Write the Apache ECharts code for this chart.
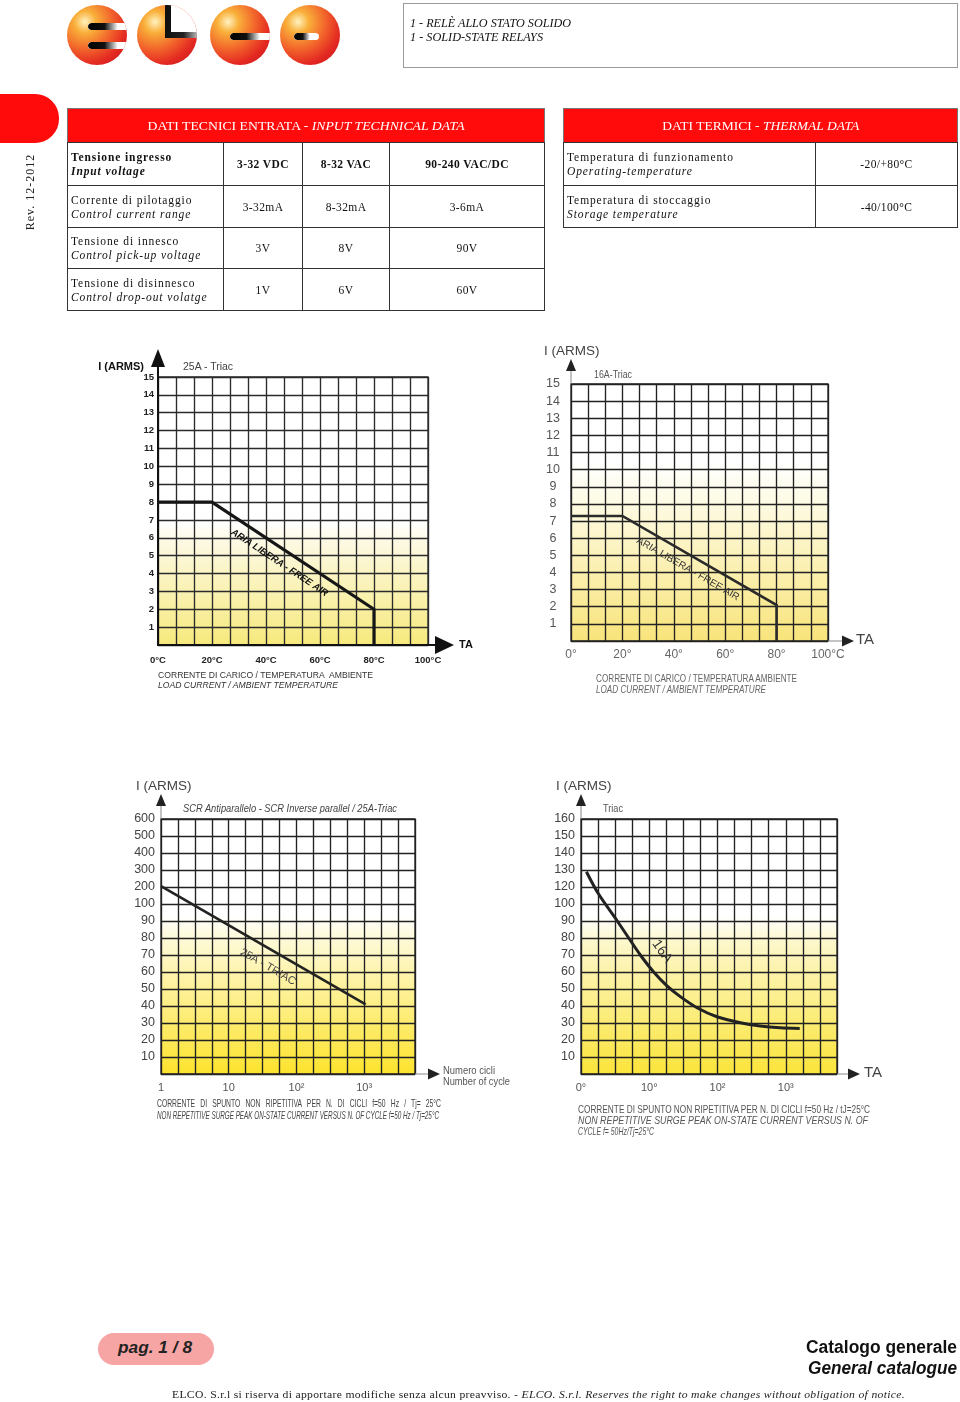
<!DOCTYPE html>
<html><head><meta charset="utf-8">
<script src="https://cdn.jsdelivr.net/npm/echarts@6.0.0/dist/echarts.min.js"></script>
<style>
html,body{margin:0;padding:0;background:#fff;}
#page{position:relative;width:960px;height:1402px;overflow:hidden;font-family:'Liberation Sans',Arial,sans-serif;}
#chart{position:absolute;left:0;top:0;width:960px;height:1402px;}
.abs{position:absolute;white-space:nowrap;line-height:1;}
.ball{position:absolute;top:5px;width:60px;height:60px;border-radius:50%;overflow:hidden;
 background:radial-gradient(circle at 30% 28%,#fff2c0 0%,#f9b03a 18%,#f2662b 45%,#e42a22 70%,#c0141a 100%);}
.slit{position:absolute;height:7px;background:#fff;border-radius:4px 0 0 4px;overflow:hidden;}
.bk{position:absolute;left:0;top:0;bottom:0;border-radius:4px;background:linear-gradient(to right,#000 0%,#111 55%,rgba(40,40,40,0.0) 100%);}
table.t{position:absolute;border-collapse:collapse;table-layout:fixed;font-family:'Liberation Serif','DejaVu Serif',serif;font-size:11.5px;color:#111;}
table.t td{border:1px solid #333;padding:0 3px;letter-spacing:0.9px;line-height:14px;}
table.t td.v{text-align:center;letter-spacing:0.4px;}
table.t th{background:#ff0b0b;color:#fff;font-weight:normal;font-size:13px;border:1px solid #777;border-bottom:1px solid #333;}
.fit{display:inline-block;white-space:nowrap;}
.cap{position:absolute;white-space:nowrap;line-height:1;font-family:'Liberation Sans',Arial,sans-serif;}
</style>
</head>
<body>
<div id="page">
<div id="chart"></div>

<!-- logo -->
<div class="ball" style="left:67px">
  <div class="slit" style="left:21px;top:18px;width:42px"><div class="bk" style="width:30px"></div></div>
  <div class="slit" style="left:21px;top:37px;width:42px"><div class="bk" style="width:30px"></div></div>
</div>
<div class="ball" style="left:137px">
  <div style="position:absolute;left:33px;top:0;width:30px;height:28px;background:#fff"></div>
  <div style="position:absolute;left:28px;top:0;width:6px;height:33px;background:#111"></div>
  <div style="position:absolute;left:28px;top:27px;width:34px;height:6px;background:linear-gradient(to right,#111 0%,#222 55%,#ccc 100%)"></div>
</div>
<div class="ball" style="left:210px">
  <div class="slit" style="left:20px;top:28px;width:42px"><div class="bk" style="width:30px"></div></div>
</div>
<div class="ball" style="left:280px">
  <div class="slit" style="left:14px;top:28px;width:25px;border-radius:4px"><div class="bk" style="width:16px"></div></div>
</div>

<!-- header box -->
<div style="position:absolute;left:403px;top:3px;width:553px;height:63px;border:1px solid #9a9a9a;"></div>
<div class="abs" data-w="161" style="left:410px;top:16px;font:italic 12px 'Liberation Serif',serif;color:#111;">1 - RELÈ ALLO STATO SOLIDO</div>
<div class="abs" data-w="133" style="left:410px;top:30px;font:italic 12px 'Liberation Serif',serif;color:#111;">1 - SOLID-STATE RELAYS</div>

<!-- red tab and rev -->
<div style="position:absolute;left:0;top:94px;width:59px;height:49px;background:#ff0b0b;border-radius:0 24px 24px 0;"></div>
<div class="abs" style="left:30px;top:192px;font:12px 'Liberation Serif',serif;letter-spacing:1px;color:#222;transform:translate(-50%,-50%) rotate(-90deg);">Rev. 12-2012</div>

<!-- input table -->
<table class="t" style="left:67px;top:108px;width:477px;">
<colgroup><col style="width:156px"><col style="width:79px"><col style="width:87px"><col style="width:155px"></colgroup>
<tr style="height:34px"><th colspan="4"><span class="fit" data-w="317" data-o="center center">DATI TECNICI ENTRATA - <i>INPUT TECHNICAL DATA</i></span></th></tr>
<tr style="height:43px"><td><b>Tensione ingresso</b><br><b><i>Input voltage</i></b></td><td class="v"><b>3-32 VDC</b></td><td class="v"><b>8-32 VAC</b></td><td class="v"><b>90-240 VAC/DC</b></td></tr>
<tr style="height:42px"><td>Corrente di pilotaggio<br><i>Control current range</i></td><td class="v">3-32mA</td><td class="v">8-32mA</td><td class="v">3-6mA</td></tr>
<tr style="height:41px"><td>Tensione di innesco<br><i>Control pick-up voltage</i></td><td class="v">3V</td><td class="v">8V</td><td class="v">90V</td></tr>
<tr style="height:42px"><td>Tensione di disinnesco<br><i>Control drop-out volatge</i></td><td class="v">1V</td><td class="v">6V</td><td class="v">60V</td></tr>
</table>

<!-- thermal table -->
<table class="t" style="left:563px;top:108px;width:394px;">
<colgroup><col style="width:252px"><col style="width:142px"></colgroup>
<tr style="height:34px"><th colspan="2"><span class="fit" data-w="197" data-o="center center">DATI TERMICI - <i>THERMAL DATA</i></span></th></tr>
<tr style="height:43px"><td>Temperatura di funzionamento<br><i>Operating-temperature</i></td><td class="v">-20/+80°C</td></tr>
<tr style="height:42px"><td>Temperatura di stoccaggio<br><i>Storage temperature</i></td><td class="v">-40/100°C</td></tr>
</table>

<!-- chart sub-titles -->
<div class="cap" data-w="50" style="left:183px;top:361px;font-size:11px;color:#444;">25A - Triac</div>
<div class="cap" data-w="38" style="left:594px;top:370px;font-size:10px;color:#555;">16A-Triac</div>
<div class="cap" data-w="214" style="left:183px;top:803px;font-size:10.5px;color:#444;font-style:italic;">SCR Antiparallelo - SCR Inverse parallel / 25A-Triac</div>
<div class="cap" data-w="20" style="left:603px;top:804px;font-size:10px;color:#555;">Triac</div>

<!-- captions -->
<div class="cap" data-w="215" style="left:158px;top:670px;font-size:9.5px;color:#333;">CORRENTE DI CARICO / TEMPERATURA&nbsp; AMBIENTE</div>
<div class="cap" data-w="180" style="left:158px;top:680px;font-size:9.5px;color:#333;font-style:italic;">LOAD CURRENT / AMBIENT TEMPERATURE</div>

<div class="cap" data-w="201" style="left:596px;top:674px;font-size:10px;color:#666;">CORRENTE DI CARICO / TEMPERATURA AMBIENTE</div>
<div class="cap" data-w="170" style="left:596px;top:685px;font-size:10px;color:#666;font-style:italic;">LOAD CURRENT / AMBIENT TEMPERATURE</div>

<div class="cap" data-w="52" style="left:443px;top:1065px;font-size:10.5px;color:#555;">Numero cicli</div>
<div class="cap" data-w="67" style="left:443px;top:1076px;font-size:10.5px;color:#555;">Number of cycle</div>
<div class="cap" data-w="284" style="left:157px;top:1098px;font-size:10.5px;color:#444;word-spacing:5px;">CORRENTE DI SPUNTO NON RIPETITIVA PER N. DI CICLI f=50 Hz / Tj= 25°C</div>
<div class="cap" data-w="282" style="left:157px;top:1110px;font-size:10.5px;color:#444;font-style:italic;">NON REPETITIVE SURGE PEAK ON-STATE CURRENT VERSUS N. OF CYCLE f=50 Hz / Tj=25°C</div>

<div class="cap" data-w="292" style="left:578px;top:1104px;font-size:11px;color:#555;">CORRENTE DI SPUNTO NON RIPETITIVA PER N. DI CICLI f=50 Hz / tJ=25°C</div>
<div class="cap" data-w="290" style="left:578px;top:1115px;font-size:11px;color:#555;font-style:italic;">NON REPETITIVE SURGE PEAK ON-STATE CURRENT VERSUS N. OF</div>
<div class="cap" data-w="76" style="left:578px;top:1126px;font-size:11px;color:#555;font-style:italic;">CYCLE f= 50Hz/Tj=25°C</div>

<!-- footer -->
<div style="position:absolute;left:98px;top:1333px;width:116px;height:32px;border-radius:16px;background:#f7a4a4;"></div>
<div class="abs" data-w="74" style="left:118px;top:1338px;font:italic bold 17px 'Liberation Sans',sans-serif;color:#222;">pag. 1 / 8</div>
<div class="abs" data-w="151" data-o="right center" style="right:3px;top:1337px;font:bold 18px 'Liberation Sans',sans-serif;color:#111;">Catalogo generale</div>
<div class="abs" data-w="149" data-o="right center" style="right:3px;top:1358px;font:italic bold 18px 'Liberation Sans',sans-serif;color:#111;">General catalogue</div>
<div class="abs" data-w="733" style="left:172px;top:1388px;font:11px 'Liberation Serif',serif;color:#222;letter-spacing:0.3px;">ELCO. S.r.l si riserva di apportare modifiche senza alcun preavviso. - <i>ELCO. S.r.l. Reserves the right to make changes without obligation of notice.</i></div>
</div>

<script>
// ---------- data ----------
// Chart 1: 25A Triac derating (load current vs ambient temperature)
const tempValues1 = [0, 20, 80, 80];
const current1 = [8, 8, 2, 0];
// Chart 2: 16A Triac derating
const tempValues2 = [0, 20, 80, 80];
const current2 = [7.3, 7.3, 2.1, 0];
// tick labels
const currentTicks12 = ['', '1', '2', '3', '4', '5', '6', '7', '8', '9', '10', '11', '12', '13', '14', '15'];
const tempTicks1 = ['0°C', '20°C', '40°C', '60°C', '80°C', '100°C'];
const tempTicks2 = ['0°', '20°', '40°', '60°', '80°', '100°C'];
// Chart 3: SCR inverse parallel / 25A-Triac surge current vs number of cycles
const cycles3 = [1, 1050];
const surge3 = [205, 41];
const ampTicks3 = [0, 10, 20, 30, 40, 50, 60, 70, 80, 90, 100, 200, 300, 400, 500, 600];
const cycleTicks3 = ['1', '10', '10²', '10³'];
// Chart 4: 16A Triac surge current vs number of cycles
const cycles4 = [1.2, 1.8, 3.4, 5.0, 7.4, 11.6, 18, 28.5, 50, 98, 216, 420, 830, 1600];
const surge4 = [129, 112, 90, 80, 70, 60, 52, 45.5, 39, 33.7, 30.2, 28.3, 27.2, 26.8];
const ampTicks4 = [0, 10, 20, 30, 40, 50, 60, 70, 80, 90, 100, 120, 130, 140, 150, 160];
const cycleTicks4 = ['0°', '10°', '10²', '10³'];

// piecewise scale of the printed amp axis (evenly spaced rows with uneven labels)
function ampToRow(v, ticks) {
  for (let i = 0; i < ticks.length - 1; i++) {
    if (v <= ticks[i + 1]) return i + (v - ticks[i]) / (ticks[i + 1] - ticks[i]);
  }
  return ticks.length - 1;
}
const logCycles = n => Math.log10(n);

// ---------- layout ----------
const grids = [
  {left: 158, top: 377, width: 270, height: 268},
  {left: 571, top: 384, width: 257, height: 257},
  {left: 161, top: 819, width: 254, height: 255},
  {left: 581, top: 819, width: 256, height: 255}
];
function grad(stops) {
  return {type: 'linear', x: 0, y: 0, x2: 0, y2: 1, colorStops: stops.map(s => ({offset: s[0], color: s[1]}))};
}
const bgs = [
  grad([[0, '#ffffff'], [0.54, '#ffffff'], [0.62, '#fdf9e2'], [1, '#f6e97c']]),
  grad([[0, '#ffffff'], [0.3, '#ffffff'], [0.45, '#fefbe6'], [1, '#f8e47a']]),
  grad([[0, '#ffffff'], [0.38, '#ffffff'], [0.46, '#fefadc'], [1, '#fde32c']]),
  grad([[0, '#ffffff'], [0.38, '#ffffff'], [0.48, '#fdf7cc'], [1, '#fbe43a']])
];
const gridColor = ['#2b2b2b', '#222', '#222', '#222'];

const gridOpts = grids.map((g, i) => Object.assign({
  show: true, backgroundColor: bgs[i], borderColor: gridColor[i], borderWidth: 1.3,
  outerBoundsMode: 'none', containLabel: false
}, g));

const noTick = {show: false};
function split(i) { return {show: true, lineStyle: {color: gridColor[i], width: 1.35}}; }

const xAxes = [
  {gridIndex: 0, type: 'value', min: 0, max: 100, interval: 20,
   axisLine: {show: true, lineStyle: {color: '#111', width: 2}}, axisTick: noTick,
   splitLine: split(0), minorTick: {show: false, splitNumber: 3}, minorSplitLine: split(0),
   axisLabel: {formatter: v => tempTicks1[Math.round(v / 20)], fontFamily: 'Liberation Sans', fontWeight: 'bold', fontSize: 9.5, color: '#222', margin: 10}},
  {gridIndex: 1, type: 'value', min: 0, max: 100, interval: 20,
   axisLine: {show: false}, axisTick: noTick,
   splitLine: split(1), minorTick: {show: false, splitNumber: 3}, minorSplitLine: split(1),
   axisLabel: {formatter: v => tempTicks2[Math.round(v / 20)], fontFamily: 'Liberation Sans', fontSize: 12, color: '#666', margin: 8}},
  {gridIndex: 2, type: 'value', min: 0, max: 3.75, interval: 0.25,
   axisLine: {show: false}, axisTick: noTick, splitLine: split(2),
   axisLabel: {formatter: v => Number.isInteger(v) ? cycleTicks3[v] : '', fontFamily: 'Liberation Sans', fontSize: 11, color: '#555', margin: 8}},
  {gridIndex: 3, type: 'value', min: 0, max: 3.75, interval: 0.25,
   axisLine: {show: false}, axisTick: noTick, splitLine: split(3),
   axisLabel: {formatter: v => Number.isInteger(v) ? cycleTicks4[v] : '', fontFamily: 'Liberation Sans', fontSize: 11, color: '#555', margin: 8}}
];
const yAxes = [
  {gridIndex: 0, type: 'value', min: 0, max: 15, interval: 1,
   axisLine: {show: true, lineStyle: {color: '#111', width: 2}}, axisTick: noTick, splitLine: split(0),
   axisLabel: {formatter: v => currentTicks12[v], fontFamily: 'Liberation Sans', fontWeight: 'bold', fontSize: 9.5, color: '#222', margin: 4}},
  {gridIndex: 1, type: 'value', min: 0, max: 15, interval: 1,
   axisLine: {show: false}, axisTick: noTick, splitLine: split(1),
   axisLabel: {formatter: v => currentTicks12[v], fontFamily: 'Liberation Sans', fontSize: 12.5, color: '#555', align: 'center', margin: 18}},
  {gridIndex: 2, type: 'value', min: 0, max: 15, interval: 1,
   axisLine: {show: false}, axisTick: noTick, splitLine: split(2),
   axisLabel: {formatter: v => v === 0 ? '' : String(ampTicks3[v]), fontFamily: 'Liberation Sans', fontSize: 12.5, color: '#444', margin: 6}},
  {gridIndex: 3, type: 'value', min: 0, max: 15, interval: 1,
   axisLine: {show: false}, axisTick: noTick, splitLine: split(3),
   axisLabel: {formatter: v => v === 0 ? '' : String(ampTicks4[v]), fontFamily: 'Liberation Sans', fontSize: 12.5, color: '#444', margin: 6}}
];

function tag(coord, text, rotate, font) {
  return {
    symbol: 'circle', symbolSize: 1, itemStyle: {color: 'rgba(0,0,0,0)'},
    data: [{coord: coord}],
    label: Object.assign({show: true, position: 'inside', formatter: text, rotate: rotate}, font)
  };
}

const series = [
  {type: 'line', xAxisIndex: 0, yAxisIndex: 0, symbol: 'none', z: 5,
   data: tempValues1.map((t, i) => [t, current1[i]]),
   lineStyle: {color: '#161616', width: 3.2, join: 'miter'},
   markPoint: tag([45, 4.6], 'ARIA LIBERA - FREE AIR', -33.5,
     {fontFamily: 'Liberation Sans', fontWeight: 'bold', fontStyle: 'italic', fontSize: 9.5, color: '#111'})},
  {type: 'line', xAxisIndex: 1, yAxisIndex: 1, symbol: 'none', z: 5,
   data: tempValues2.map((t, i) => [t, current2[i]]),
   lineStyle: {color: '#2a2a2a', width: 2.6, join: 'miter'},
   markPoint: tag([45.5, 4.2], 'ARIA LIBERA - FREE AIR', -30,
     {fontFamily: 'Liberation Sans', fontSize: 10, color: '#333'})},
  {type: 'line', xAxisIndex: 2, yAxisIndex: 2, symbol: 'none', z: 5,
   data: cycles3.map((n, i) => [logCycles(n), ampToRow(surge3[i], ampTicks3)]),
   lineStyle: {color: '#222', width: 2.6},
   markPoint: tag([logCycles(38), ampToRow(63, ampTicks3)], '25A - TRIAC', -30,
     {fontFamily: 'Liberation Sans', fontSize: 11, color: '#444'})},
  {type: 'line', xAxisIndex: 3, yAxisIndex: 3, symbol: 'none', z: 5, smooth: 0.3,
   data: cycles4.map((n, i) => [logCycles(n), ampToRow(surge4[i], ampTicks4)]),
   lineStyle: {color: '#222', width: 3},
   markPoint: tag([logCycles(15.4), ampToRow(72, ampTicks4)], '16A', -55,
     {fontFamily: 'Liberation Sans', fontSize: 14, color: '#333'})}
];

// ---------- decorations: axis arrows and titles ----------
function ln(x1, y1, x2, y2, c, w) { return {type: 'line', shape: {x1, y1, x2, y2}, style: {stroke: c, lineWidth: w}, z: 10}; }
function tri(pts, c) { return {type: 'polygon', shape: {points: pts}, style: {fill: c}, z: 10}; }
function txt(x, y, text, font, fill, align) {
  return {type: 'text', x: x, y: y, z: 10, style: Object.assign({text: text, fill: fill, align: align || 'left', verticalAlign: 'middle'}, font)};
}
const graphic = [
  // chart 1
  ln(158, 378, 158, 362, '#111', 2), tri([[158, 349], [151, 367], [165, 367]], '#111'),
  ln(427, 645, 438, 645, '#111', 2), tri([[454, 645], [435, 636], [435, 654]], '#111'),
  txt(144, 367, 'I (ARMS)', {fontFamily: 'Liberation Sans', fontWeight: 'bold', fontSize: 11}, '#111', 'right'),
  txt(459, 645, 'TA', {fontFamily: 'Liberation Sans', fontWeight: 'bold', fontSize: 11}, '#111'),
  // chart 2
  ln(571, 384, 571, 368, '#888', 1), tri([[571, 359], [566, 371], [576, 371]], '#222'),
  ln(828, 641, 844, 641, '#888', 1), tri([[854, 641], [842, 635.5], [842, 646.5]], '#222'),
  txt(544, 351, 'I (ARMS)', {fontFamily: 'Liberation Sans', fontSize: 13.5}, '#444'),
  txt(856, 640, 'TA', {fontFamily: 'Liberation Sans', fontSize: 15}, '#444'),
  // chart 3
  ln(161, 819, 161, 804, '#888', 1), tri([[161, 794], [156, 806], [166, 806]], '#222'),
  ln(415, 1074, 430, 1074, '#888', 1), tri([[440, 1074], [428, 1068.5], [428, 1079.5]], '#222'),
  txt(136, 786, 'I (ARMS)', {fontFamily: 'Liberation Sans', fontSize: 13.5}, '#444'),
  // chart 4
  ln(581, 819, 581, 804, '#888', 1), tri([[581, 794], [576, 806], [586, 806]], '#222'),
  ln(837, 1074, 850, 1074, '#888', 1), tri([[860, 1074], [848, 1068.5], [848, 1079.5]], '#222'),
  txt(556, 786, 'I (ARMS)', {fontFamily: 'Liberation Sans', fontSize: 13.5}, '#444'),
  txt(864, 1073, 'TA', {fontFamily: 'Liberation Sans', fontSize: 15}, '#444')
];

const chart = echarts.init(document.getElementById('chart'), null, {renderer: 'canvas'});
chart.setOption({
  animation: false,
  backgroundColor: 'transparent',
  grid: gridOpts,
  xAxis: xAxes,
  yAxis: yAxes,
  series: series,
  graphic: graphic
});

// fit printed-text widths to the reference
function fitAll() {
  document.querySelectorAll('[data-w]').forEach(el => {
    el.style.transform = 'none';
    const w = el.getBoundingClientRect().width;
    const t = parseFloat(el.dataset.w);
    if (w > 0) {
      el.style.transformOrigin = el.dataset.o || 'left center';
      el.style.transform = 'scaleX(' + (t / w).toFixed(4) + ')';
    }
  });
}
fitAll();
</script>
</body></html>
